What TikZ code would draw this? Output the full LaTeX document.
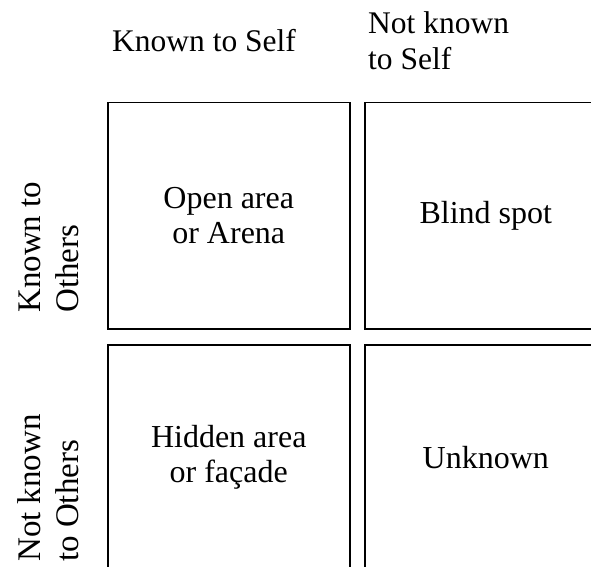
\documentclass[tikz,border=0pt]{standalone}
\usepackage{fontspec}
\setmainfont{Liberation Serif}
\begin{document}
\begin{tikzpicture}[x=1bp,y=-1bp,
  quad/.style={draw=black,line width=1.5bp,minimum width=242bp,minimum height=226bp,inner sep=0pt,anchor=north west,align=center,font=\fontsize{32bp}{35bp}\selectfont},
  lbl/.style={inner sep=0pt,align=left,font=\fontsize{31.5bp}{36bp}\selectfont},
  vlbl/.style={inner sep=0pt,align=left,rotate=90,anchor=base west,font=\fontsize{33bp}{38bp}\selectfont}]
\useasboundingbox (0,0) rectangle (591,567);
\clip (0,0) rectangle (591,567);
\node[quad] (open) at (107,102) {Open area\\or Arena};
\node[quad] (blind) at (364,102) {Blind spot};
\node[quad] (hidden) at (107,344) {Hidden area\\or façade};
\node[quad] (unknown) at (364,344) {Unknown};
\node[lbl,anchor=base west] (kself) at (112,52) {Known to Self};
\node[lbl,anchor=base west] (nkself) at (368,70) {Not known\\to Self};
\node[vlbl] (kothers) at (78,313) {Known to\\Others};
\node[vlbl] (nkothers) at (78,562) {Not known\\to Others};
\end{tikzpicture}
\end{document}
